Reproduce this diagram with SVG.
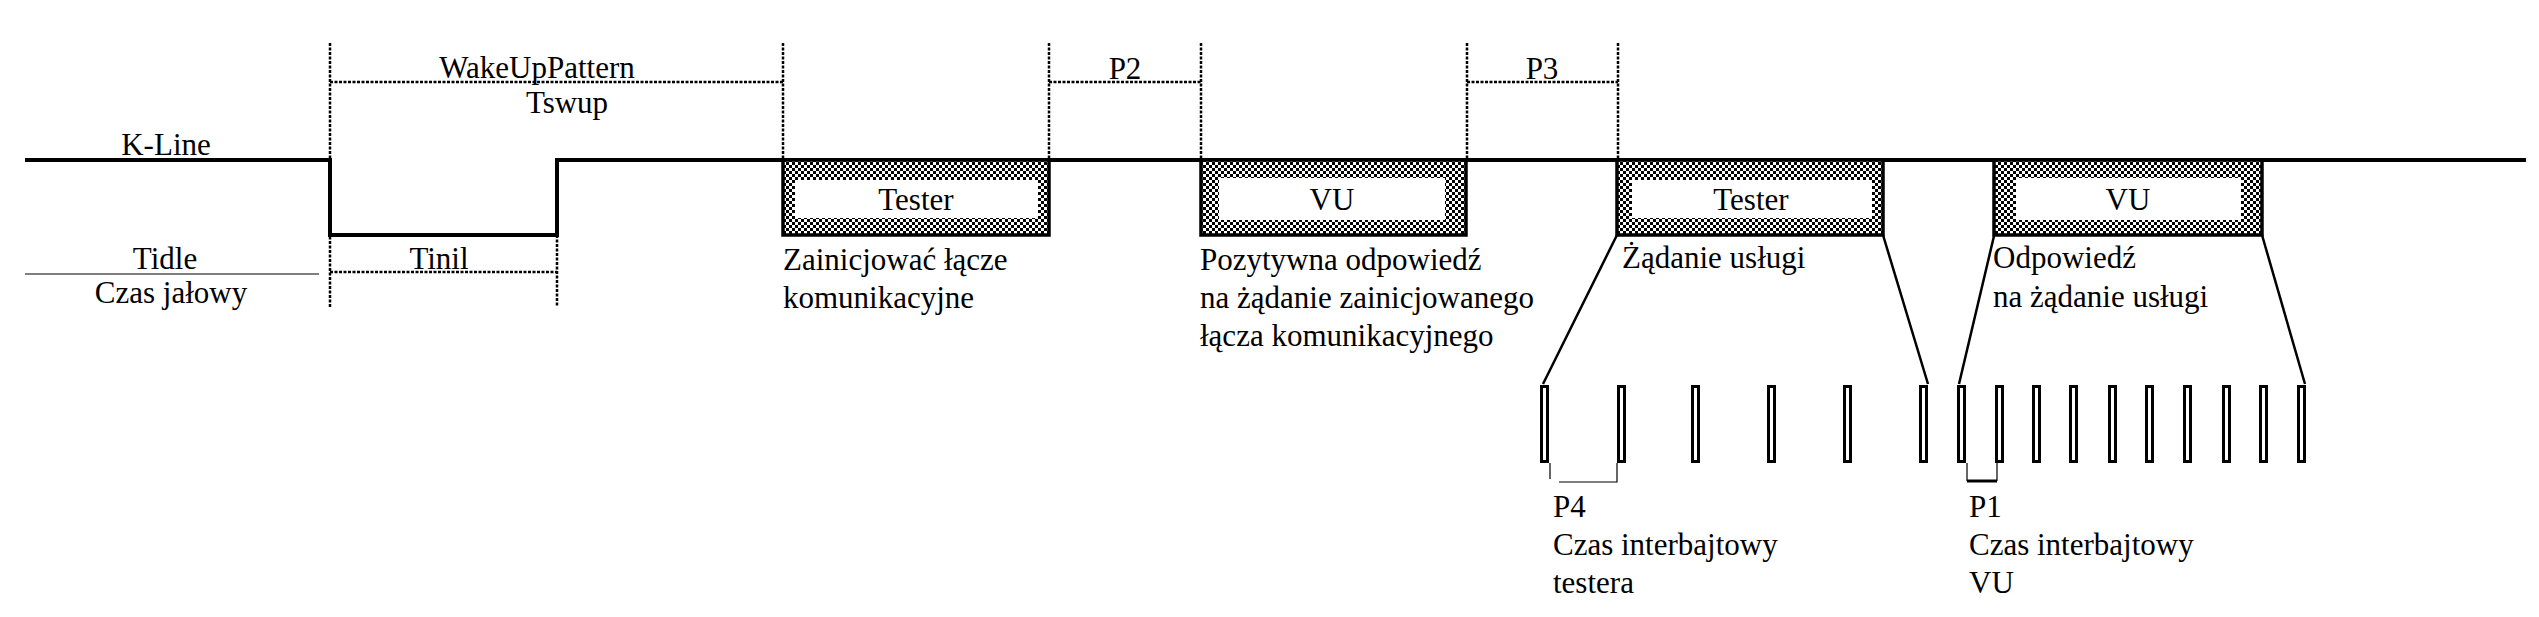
<svg xmlns="http://www.w3.org/2000/svg" width="2539" height="617" viewBox="0 0 2539 617">
<style>
text{font-family:"Liberation Serif","Times New Roman",serif;font-size:31px;fill:#000}
.mid{text-anchor:middle}
.sig{fill:none;stroke:#000;stroke-width:4}
.dim{fill:none;stroke:#000;stroke-width:2.5;stroke-dasharray:3 1.5}
.thin{fill:none;stroke:#000;stroke-width:1.2}
.diag{fill:none;stroke:#000;stroke-width:2.5}
.box{fill:url(#chk);stroke:#000;stroke-width:3.5}
.inner{fill:#fff;stroke:none}
.pulse{fill:#fff;stroke:#000;stroke-width:3}
</style>
<defs>
<pattern id="chk" width="6" height="6" patternUnits="userSpaceOnUse">
<rect width="6" height="6" fill="#fff"/>
<rect width="3" height="3" fill="#000"/>
<rect x="3" y="3" width="3" height="3" fill="#000"/>
</pattern>
</defs>
<rect width="2539" height="617" fill="#fff"/>

<g id="dimensions">
<path class="dim" d="M330,43 V307 M557,235 V307 M783,43 V160 M1049,43 V160 M1201,43 V160 M1467,43 V160 M1618,43 V160"/>
<path class="dim" d="M330,82 H783 M330,272 H557 M1049,82 H1201 M1467,82 H1618"/>
<path class="thin" d="M25,274 H319"/>
<text class="mid" x="537" y="78">WakeUpPattern</text>
<text class="mid" x="567" y="113">Tswup</text>
<text class="mid" x="439" y="269">Tinil</text>
<text class="mid" x="1125" y="79">P2</text>
<text class="mid" x="1542" y="79">P3</text>
</g>

<g id="kline">
<path class="sig" d="M25,160 H330 V235 H557 V160 H2526"/>
<text class="mid" x="166" y="155">K-Line</text>
<text class="mid" x="165" y="269">Tidle</text>
<text class="mid" x="171" y="303">Czas jałowy</text>
</g>

<g id="tester1">
<rect class="box" x="783" y="160" width="266" height="75"/>
<rect class="inner" x="795" y="180" width="243" height="38"/>
<text class="mid" x="916" y="210">Tester</text>
<text x="783" y="270">Zainicjować łącze</text>
<text x="783" y="308">komunikacyjne</text>
</g>

<g id="vu1">
<rect class="box" x="1201" y="160" width="265" height="75"/>
<rect class="inner" x="1219" y="178" width="226" height="42"/>
<text class="mid" x="1332" y="210">VU</text>
<text x="1200" y="270">Pozytywna odpowiedź</text>
<text x="1200" y="308">na żądanie zainicjowanego</text>
<text x="1200" y="346">łącza komunikacyjnego</text>
</g>

<g id="tester2">
<rect class="box" x="1617" y="160" width="266" height="75"/>
<rect class="inner" x="1632" y="180" width="240" height="38"/>
<text class="mid" x="1751" y="210">Tester</text>
<text x="1622" y="268">Żądanie usługi</text>
</g>

<g id="vu2">
<rect class="box" x="1994" y="160" width="268" height="75"/>
<rect class="inner" x="2016" y="178" width="225" height="42"/>
<text class="mid" x="2128" y="210">VU</text>
<text x="1993" y="268">Odpowiedź</text>
<text x="1993" y="307">na żądanie usługi</text>
</g>

<g id="connectors">
<path class="diag" d="M1617,235 L1543,384 M1883,235 L1928,384 M1994,236 L1959,384 M2262,235 L2305,384"/>
</g>

<g id="pulses">
<rect class="pulse" x="1541.5" y="386.5" width="6" height="75"/>
<rect class="pulse" x="1618.5" y="386.5" width="6" height="75"/>
<rect class="pulse" x="1692.5" y="386.5" width="6" height="75"/>
<rect class="pulse" x="1768.5" y="386.5" width="6" height="75"/>
<rect class="pulse" x="1844.5" y="386.5" width="6" height="75"/>
<rect class="pulse" x="1920.5" y="386.5" width="6" height="75"/>
<rect class="pulse" x="1958.5" y="386.5" width="6" height="75"/>
<rect class="pulse" x="1996.5" y="386.5" width="6" height="75"/>
<rect class="pulse" x="2033.5" y="386.5" width="6" height="75"/>
<rect class="pulse" x="2070.5" y="386.5" width="6" height="75"/>
<rect class="pulse" x="2109.5" y="386.5" width="6" height="75"/>
<rect class="pulse" x="2146.5" y="386.5" width="6" height="75"/>
<rect class="pulse" x="2184.5" y="386.5" width="6" height="75"/>
<rect class="pulse" x="2223.5" y="386.5" width="6" height="75"/>
<rect class="pulse" x="2260.5" y="386.5" width="6" height="75"/>
<rect class="pulse" x="2298.5" y="386.5" width="6" height="75"/>
</g>

<g id="p4">
<path class="thin" d="M1550,463 V479 M1559,482 H1617 V463"/>
<text x="1553" y="517">P4</text>
<text x="1553" y="555">Czas interbajtowy</text>
<text x="1553" y="593">testera</text>
</g>

<g id="p1">
<path class="thin" d="M1967,463 V481 M1997,463 V481"/>
<path fill="none" stroke="#000" stroke-width="3" d="M1967,481 H1997"/>
<text x="1969" y="517">P1</text>
<text x="1969" y="555">Czas interbajtowy</text>
<text x="1969" y="593">VU</text>
</g>
</svg>
